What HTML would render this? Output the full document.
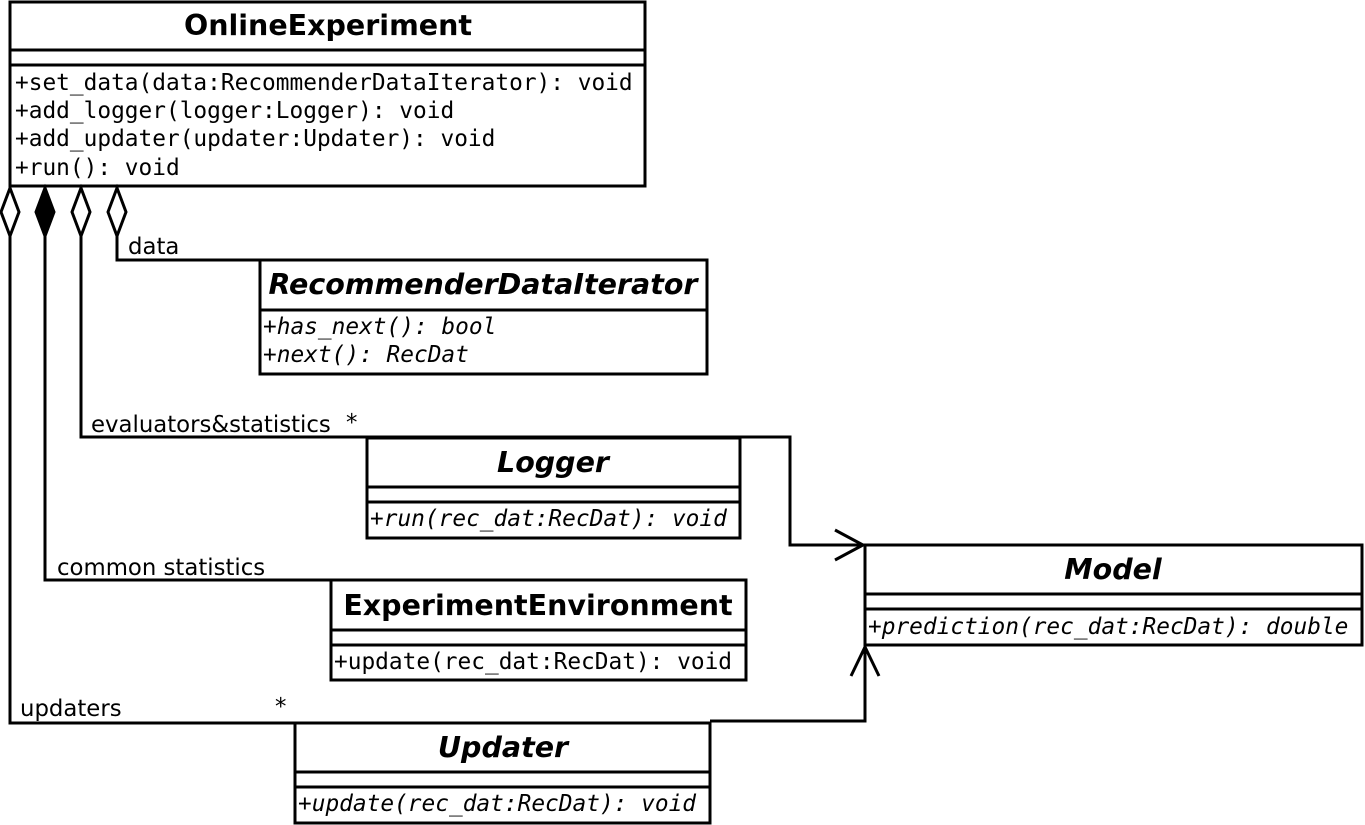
<!DOCTYPE html>
<html><head><meta charset="utf-8"><style>body{margin:0;background:#fff}svg{display:block}</style></head><body>
<svg width="1365" height="825" xmlns="http://www.w3.org/2000/svg">
<g fill="none" stroke="#000" stroke-width="3">
<rect x="10" y="2" width="635" height="184" fill="#fff"/>
<line x1="10" y1="50" x2="645" y2="50"/><line x1="10" y1="65" x2="645" y2="65"/>
<rect x="260" y="260" width="447" height="114"/>
<line x1="260" y1="310" x2="707" y2="310"/>
<rect x="367" y="438" width="373" height="100"/>
<line x1="367" y1="487" x2="740" y2="487"/><line x1="367" y1="502" x2="740" y2="502"/>
<rect x="331" y="580" width="415" height="100"/>
<line x1="331" y1="630" x2="746" y2="630"/><line x1="331" y1="645" x2="746" y2="645"/>
<rect x="295" y="723" width="415" height="100"/>
<line x1="295" y1="772" x2="710" y2="772"/><line x1="295" y1="787" x2="710" y2="787"/>
<rect x="865" y="545" width="497" height="100"/>
<line x1="865" y1="594" x2="1362" y2="594"/><line x1="865" y1="609" x2="1362" y2="609"/>
<polyline points="117,236 117,260 260,260"/>
<polyline points="81,236 81,437 790,437 790,545 863,545"/>
<polyline points="45,236 45,580 331,580"/>
<polyline points="10,236 10,723 295,723"/>
<polyline points="710,721 865,721 865,647"/>
<polyline points="835,530 863,545 835,560"/>
<polyline points="851,676 865,647 879,676"/>
<polygon points="10,188 19,212 10,236 1,212" fill="#fff"/>
<polygon points="45,188 54,212 45,236 36,212" fill="#000"/>
<polygon points="81,188 90,212 81,236 72,212" fill="#fff"/>
<polygon points="117,188 126,212 117,236 108,212" fill="#fff"/>
</g>
<g font-family="'DejaVu Sans','Liberation Sans',sans-serif" fill="#000">
<g font-size="28.5" font-weight="bold" text-anchor="middle">
<text x="328" y="35">OnlineExperiment</text>
<text x="483" y="294" font-style="italic">RecommenderDataIterator</text>
<text x="553" y="472" font-style="italic">Logger</text>
<text x="538" y="615">ExperimentEnvironment</text>
<text x="503" y="757" font-style="italic">Updater</text>
<text x="1113" y="579" font-style="italic">Model</text>
</g>
<g font-size="22.8">
<text x="128" y="254">data</text>
<text x="91" y="432">evaluators&amp;statistics</text>
<text x="346" y="430">*</text>
<text x="57" y="575">common statistics</text>
<text x="20" y="716">updaters</text>
<text x="275" y="714">*</text>
</g>
</g>
<g font-family="'DejaVu Sans Mono','Liberation Mono',monospace" font-size="22.8" fill="#000">
<text x="15" y="90">+set_data(data:RecommenderDataIterator): void</text>
<text x="15" y="118">+add_logger(logger:Logger): void</text>
<text x="15" y="146">+add_updater(updater:Updater): void</text>
<text x="15" y="175">+run(): void</text>
<g font-style="italic">
<text x="263" y="334">+has_next(): bool</text>
<text x="263" y="362">+next(): RecDat</text>
<text x="370" y="526">+run(rec_dat:RecDat): void</text>
<text x="298" y="811">+update(rec_dat:RecDat): void</text>
<text x="868" y="634">+prediction(rec_dat:RecDat): double</text>
</g>
<text x="334" y="669">+update(rec_dat:RecDat): void</text>
</g>
</svg>
</body></html>
